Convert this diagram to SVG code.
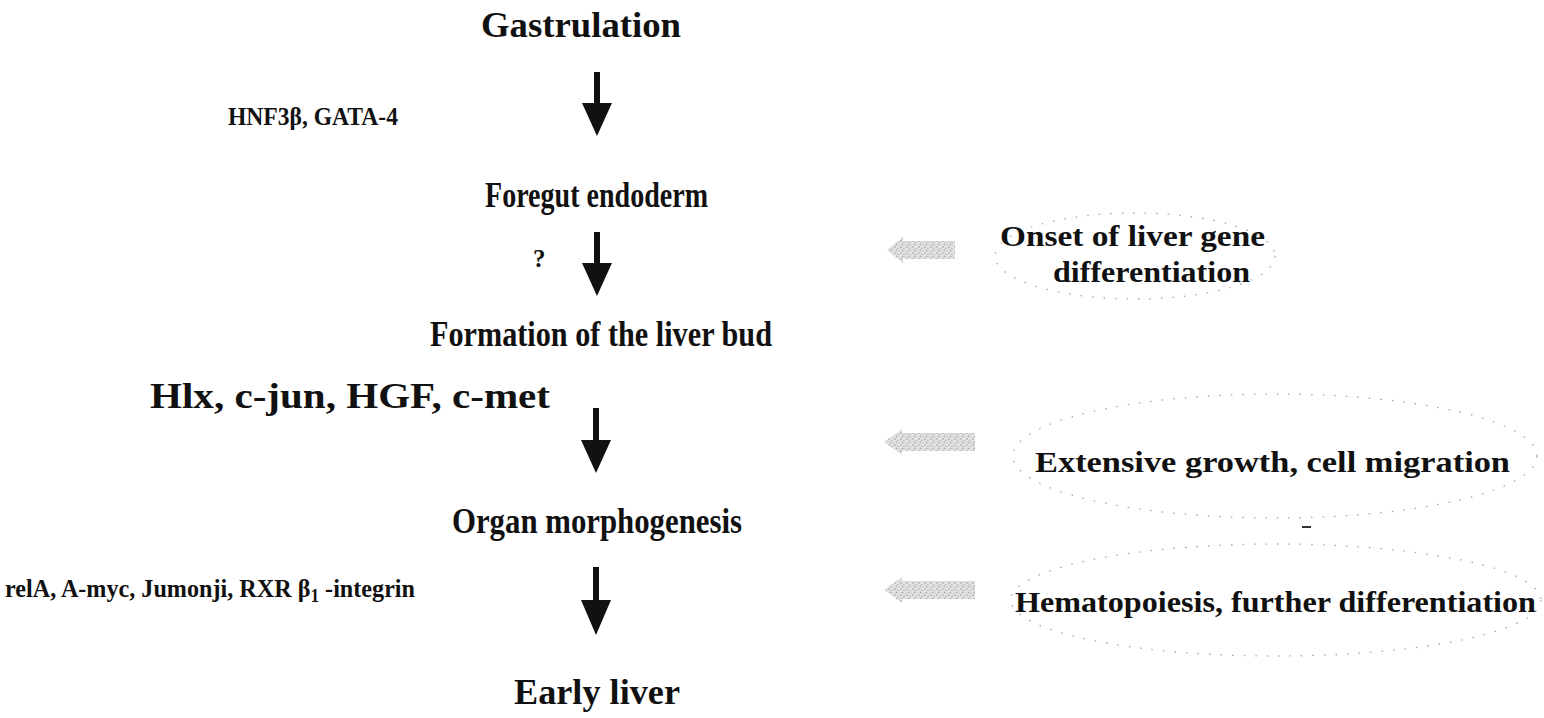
<svg xmlns="http://www.w3.org/2000/svg" width="1544" height="718" viewBox="0 0 1544 718">
<style>
text{font-family:"Liberation Serif","Times New Roman",serif;font-weight:bold;fill:#111}
.main{font-size:35px}
.lab{font-size:25px}
.side{font-size:29px}
.arrow{fill:#111}
.shaft{stroke:#111;stroke-width:6;fill:none}
.note-ell{fill:none;stroke:#a5a5a5;stroke-width:1.3;stroke-dasharray:1.5 10}
.grey{fill:url(#stipple);stroke:none}
</style>
<defs>
<pattern id="stipple" width="6" height="6" patternUnits="userSpaceOnUse">
<rect width="6" height="6" fill="#e2e2e2"/>
<circle cx="1" cy="1" r="0.8" fill="#9a9a9a"/>
<circle cx="4" cy="2.5" r="0.7" fill="#aaaaaa"/>
<circle cx="2.5" cy="4.5" r="0.8" fill="#a0a0a0"/>
<circle cx="5" cy="5" r="0.6" fill="#bdbdbd"/>
</pattern>
</defs>
<rect width="1544" height="718" fill="#fff"/>

<g id="n-gastrulation"><text class="main" x="481" y="37" textLength="200" lengthAdjust="spacingAndGlyphs">Gastrulation</text></g>
<g id="n-foregut"><text class="main" x="485" y="207" textLength="223" lengthAdjust="spacingAndGlyphs">Foregut endoderm</text></g>
<g id="n-liverbud"><text class="main" x="430" y="346" textLength="342" lengthAdjust="spacingAndGlyphs">Formation of the liver bud</text></g>
<g id="n-organ"><text class="main" x="452" y="533" textLength="290" lengthAdjust="spacingAndGlyphs">Organ morphogenesis</text></g>
<g id="n-early"><text class="main" x="514" y="704" textLength="166" lengthAdjust="spacingAndGlyphs">Early liver</text></g>

<g id="labels">
<text class="lab" x="228" y="125" textLength="170" lengthAdjust="spacingAndGlyphs">HNF3β, GATA-4</text>
<text class="lab" x="533" y="267">?</text>
<text class="main" x="150" y="408" textLength="400" lengthAdjust="spacingAndGlyphs">Hlx, c-jun, HGF, c-met</text>
<text class="lab" x="5" y="597" font-size="27" textLength="410" lengthAdjust="spacingAndGlyphs">relA, A-myc, Jumonji, RXR β<tspan dy="5" font-size="18">1</tspan><tspan dy="-5"> -integrin</tspan></text>
</g>

<g id="connectors">
<line class="shaft" x1="597" y1="72" x2="597" y2="105"/>
<polygon class="arrow" points="582,103 612,103 597,136"/>
<line class="shaft" x1="597" y1="232" x2="597" y2="265"/>
<polygon class="arrow" points="582,263 612,263 597,296"/>
<line class="shaft" x1="596" y1="408" x2="596" y2="442"/>
<polygon class="arrow" points="581,440 611,440 596,473"/>
<line class="shaft" x1="596" y1="567" x2="596" y2="602"/>
<polygon class="arrow" points="581,600 611,600 596,635"/>
</g>

<g id="note-onset">
<ellipse class="note-ell" cx="1135" cy="256" rx="140" ry="43"/>
<polygon class="grey" points="887,250 903,237 903,241 955,241 955,259 903,259 903,263"/>
<text class="side" x="1000" y="246" textLength="265" lengthAdjust="spacingAndGlyphs">Onset of liver gene</text>
<text class="side" x="1053" y="282" textLength="197" lengthAdjust="spacingAndGlyphs">differentiation</text>
</g>

<g id="note-growth">
<ellipse class="note-ell" cx="1275" cy="456" rx="262" ry="62"/>
<polygon class="grey" points="884,442 902,429 902,433 975,433 975,451 902,451 902,455"/>
<text class="side" x="1035" y="472" textLength="475" lengthAdjust="spacingAndGlyphs">Extensive growth, cell migration</text>
</g>

<g id="note-hemato">
<ellipse class="note-ell" cx="1276" cy="600" rx="265" ry="56"/>
<polygon class="grey" points="884,590 902,577 902,581 975,581 975,599 902,599 902,603"/>
<text class="side" x="1015" y="612" textLength="521" lengthAdjust="spacingAndGlyphs">Hematopoiesis, further differentiation</text>
</g>

<line x1="1302" y1="527" x2="1311" y2="527" stroke="#333" stroke-width="2"/>
</svg>
